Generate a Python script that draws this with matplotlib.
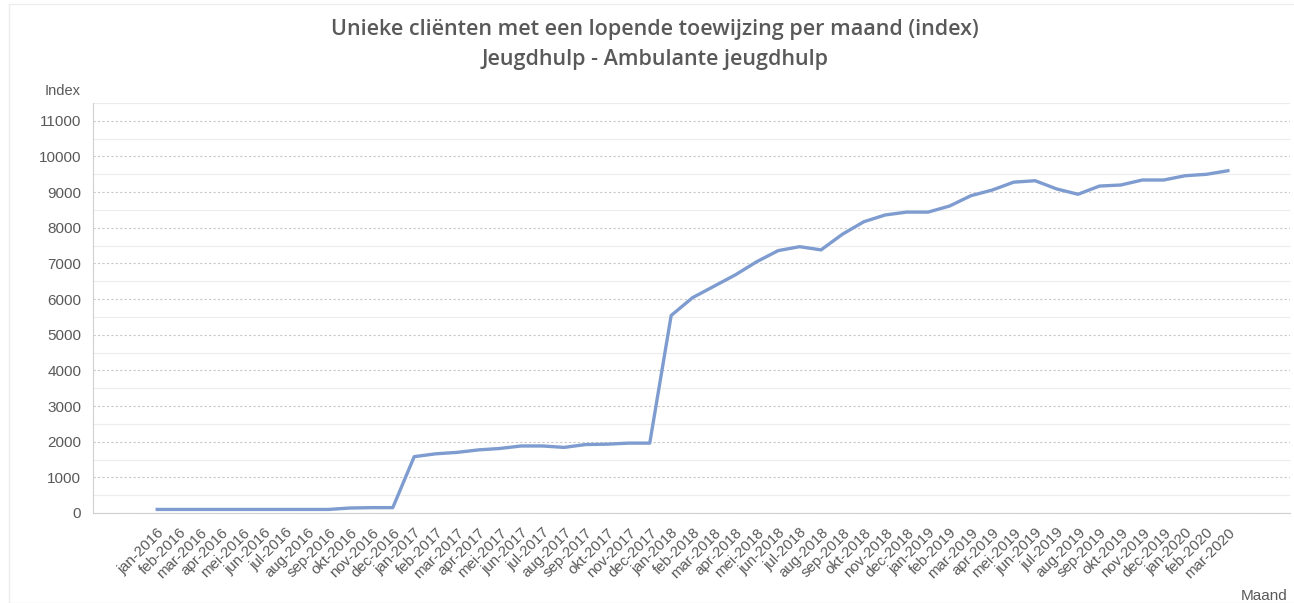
import matplotlib
matplotlib.use("Agg")
import matplotlib.pyplot as plt
from matplotlib.ticker import MultipleLocator
from matplotlib.patches import Rectangle

# months jan-2016 .. mar-2020
maanden = ["jan", "feb", "mar", "apr", "mei", "jun",
           "jul", "aug", "sep", "okt", "nov", "dec"]
jaren = [2016, 2017, 2018, 2019, 2020]
labels = [f"{m}-{j}" for j in jaren for m in maanden][:51]

# index values
v2016 = [100, 100, 100, 100, 100, 100, 100, 100, 100, 140, 150, 150]
v2017 = [1580, 1660, 1700, 1770, 1810, 1880, 1880, 1840, 1920, 1930, 1960, 1960]
v2018 = [5540, 6040, 6360, 6680, 7050, 7360, 7470, 7380, 7820, 8170, 8360, 8440]
v2019 = [8440, 8610, 8900, 9060, 9280, 9320, 9090, 8940, 9170, 9200, 9340, 9340]
v2020 = [9460, 9500, 9600]
waarden = v2016 + v2017 + v2018 + v2019 + v2020

grijs = "#595959"
plt.rcParams['font.family'] = ['Liberation Sans', 'DejaVu Sans']

fig = plt.figure(figsize=(12.94, 6.03), dpi=100)
ax = fig.add_axes([93/1294, 1 - 513/603, (1290-93)/1294, (513-103)/603])

x = list(range(len(labels)))
ax.plot(x, waarden, color="#7e9ccf", lw=2.4, solid_joinstyle="round")

ax.set_xlim(-3, 52.9)
ax.set_ylim(0, 11500)
ax.yaxis.set_minor_locator(MultipleLocator(500))
ax.set_yticks(range(0, 11001, 1000))
ax.grid(axis="y", which="major", color="#c8c8c8", ls=(0, (2, 2)), lw=0.8)
ax.grid(axis="y", which="minor", color="#ececec", ls="-", lw=0.8)
ax.set_axisbelow(True)

ax.set_xticks(x)
ax.set_xticklabels(labels, rotation=45, ha="right", rotation_mode="anchor",
                   fontsize=10.8, color=grijs)
ax.tick_params(axis="y", labelsize=11, colors=grijs, length=0, pad=8.5)
ax.tick_params(axis="x", length=0, pad=9)
ax.tick_params(axis="y", which="minor", length=0)

for s in ["top", "right"]:
    ax.spines[s].set_visible(False)
ax.spines["left"].set_color("#d0d0d0")
ax.spines["bottom"].set_color("#d0d0d0")

fig.text(81/1294, 1 - 91/603, "Index", ha="right", va="center", fontsize=10.5, color=grijs)
fig.text(1288/1294, 1 - 596/603, "Maand", ha="right", va="center", fontsize=11, color=grijs)

fig.text(0.506, 1 - 30/603, "Unieke cliënten met een lopende toewijzing per maand (index)",
         ha="center", va="center", fontsize=15.5, color=grijs, family="Open Sans", weight="semibold")
fig.text(0.506, 1 - 60/603, "Jeugdhulp - Ambulante jeugdhulp",
         ha="center", va="center", fontsize=15.5, color=grijs, family="Open Sans", weight="semibold")

fig.patches.append(Rectangle((9/1294, 0), 1, 1 - 4/603, transform=fig.transFigure,
                             fill=False, edgecolor="#ececec", lw=1))

fig.savefig("out.png", dpi=100)
